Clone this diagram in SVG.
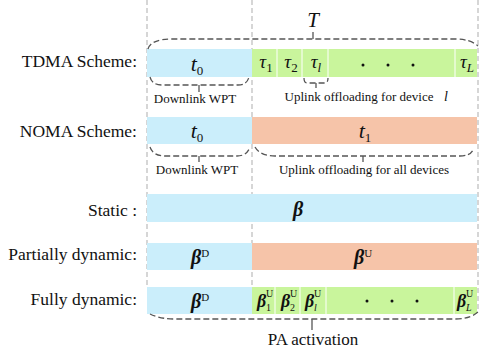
<svg xmlns="http://www.w3.org/2000/svg" width="482" height="351" viewBox="0 0 482 351">
<style>
.lbl{font-family:"Liberation Serif","Times New Roman",serif;font-size:17.5px;fill:#111;text-anchor:end}
.sm{font-family:"Liberation Serif","Times New Roman",serif;font-size:13px;fill:#111;text-anchor:middle}
.m{font-family:"Liberation Serif","Times New Roman",serif;font-style:italic;font-size:21px;fill:#111;text-anchor:middle}
.b{font-family:"Liberation Serif","Times New Roman",serif;font-style:italic;font-weight:bold;font-size:20px;fill:#111;text-anchor:middle}
.sub{font-style:normal;font-weight:normal;font-size:13px}
.sup{font-style:normal;font-weight:normal;font-size:11px}
.bs{font-family:"Liberation Serif","Times New Roman",serif;font-style:italic;font-weight:bold;font-size:18px;fill:#111}
.tiny{font-family:"Liberation Serif","Times New Roman",serif;font-size:10px;fill:#111}
.blue{fill:#cbeefb}
.green{fill:#c9f59c}
.sal{fill:#f6c4a9}
.div{stroke:#fff;stroke-width:1}
.grid{stroke:#bbb;stroke-width:1.2;stroke-dasharray:5,3;fill:none}
.br{stroke:#555;stroke-width:1.3;stroke-dasharray:6,3;fill:none}
.tick{stroke:#555;stroke-width:1.3;fill:none}
.dot{fill:#111}
</style>
<g id="grid">
<line class="grid" x1="147" y1="0" x2="147" y2="287"/>
<line class="grid" x1="252" y1="0" x2="252" y2="287"/>
<line class="grid" x1="478" y1="0" x2="478" y2="312"/>
</g>
<g id="tdma">
<text class="lbl" x="137" y="67">TDMA Scheme:</text>
<rect class="blue" x="147" y="49" width="105" height="28"/>
<rect class="green" x="252" y="49" width="225" height="28"/>
<line class="div" x1="277" y1="49" x2="277" y2="77"/>
<line class="div" x1="302" y1="49" x2="302" y2="77"/>
<line class="div" x1="328" y1="49" x2="328" y2="77"/>
<line class="div" x1="455" y1="49" x2="455" y2="77"/>
<text class="m" x="197" y="71" style="font-size:22px">t<tspan class="sub" dy="4">0</tspan></text>
<text class="m" x="266" y="68" style="font-size:19px">τ<tspan class="sub" dy="4">1</tspan></text>
<text class="m" x="291" y="68" style="font-size:19px">τ<tspan class="sub" dy="4">2</tspan></text>
<text class="m" x="316" y="68" style="font-size:19px">τ<tspan class="sub" style="font-style:italic" dy="4">l</tspan></text>
<text class="m" x="467" y="68" style="font-size:19px">τ<tspan class="sub" style="font-style:italic" dy="4">L</tspan></text>
<circle class="dot" cx="363" cy="65" r="1.5"/>
<circle class="dot" cx="388" cy="65" r="1.5"/>
<circle class="dot" cx="413" cy="65" r="1.5"/>
<text class="m" x="313" y="27">T</text>
<text class="sm" x="195" y="103">Downlink WPT</text>
<text class="sm" x="359" y="101">Uplink offloading for device</text>
<text class="sm" x="446" y="101" style="font-style:italic;font-size:14px">l</text>
</g>
<g id="noma">
<text class="lbl" x="137" y="137">NOMA Scheme:</text>
<rect class="blue" x="147" y="117" width="105" height="27"/>
<rect class="sal" x="252" y="117" width="225" height="27"/>
<text class="m" x="197" y="138" style="font-size:22px">t<tspan class="sub" dy="4">0</tspan></text>
<text class="m" x="365" y="138" style="font-size:22px">t<tspan class="sub" dy="4">1</tspan></text>
<text class="sm" x="197" y="174">Downlink WPT</text>
<text class="sm" x="364" y="174">Uplink offloading for all devices</text>
</g>
<g id="static">
<text class="lbl" x="137" y="216">Static :</text>
<rect class="blue" x="147" y="194" width="330" height="28"/>
<text class="b" x="298" y="216">β</text>
</g>
<g id="partial">
<text class="lbl" x="137" y="260">Partially dynamic:</text>
<rect class="blue" x="147" y="243" width="105" height="27"/>
<rect class="sal" x="252" y="243" width="225" height="27"/>
<text class="b" x="200" y="264">β<tspan class="sup" dy="-7">D</tspan></text>
<text class="b" x="363" y="264">β<tspan class="sup" dy="-7">U</tspan></text>
</g>
<g id="fully">
<text class="lbl" x="137" y="305">Fully dynamic:</text>
<rect class="blue" x="147" y="287" width="105" height="27"/>
<rect class="green" x="252" y="287" width="225" height="27"/>
<line class="div" x1="275" y1="287" x2="275" y2="314"/>
<line class="div" x1="300" y1="287" x2="300" y2="314"/>
<line class="div" x1="326" y1="287" x2="326" y2="314"/>
<line class="div" x1="454" y1="287" x2="454" y2="314"/>
<text class="b" x="200" y="308">β<tspan class="sup" dy="-7">D</tspan></text>
<text class="bs" x="257" y="307">β</text>
<text class="tiny" x="266" y="297">U</text>
<text class="tiny" x="266" y="311">1</text>
<text class="bs" x="281" y="307">β</text>
<text class="tiny" x="290" y="297">U</text>
<text class="tiny" x="290" y="311">2</text>
<text class="bs" x="305" y="307">β</text>
<text class="tiny" x="314" y="297">U</text>
<text class="tiny" x="314" y="311" style="font-style:italic">l</text>
<text class="bs" x="457" y="307">β</text>
<text class="tiny" x="466" y="297">U</text>
<text class="tiny" x="466" y="311" style="font-style:italic">L</text>
<circle class="dot" cx="367" cy="301" r="1.5"/>
<circle class="dot" cx="392" cy="301" r="1.5"/>
<circle class="dot" cx="417" cy="301" r="1.5"/>
<text class="sm" x="313" y="345" style="font-size:17px">PA activation</text>
</g>
<g id="connectors">
<path class="br" d="M148,49 Q151,39 172,39 H455 Q470,39 478,46"/>
<path class="tick" d="M313,32 V39"/>
<path class="br" d="M150,77 Q152,85 162,85 H238 Q247,85 249,77"/>
<path class="tick" d="M199,85 V92"/>
<path class="br" d="M304,78 Q304,83 307,83 H325 Q328,83 328,78"/>
<path class="tick" d="M316,83 V88"/>
<path class="br" d="M150,147 Q153,156 165,156 H237 Q247,156 250,147"/>
<path class="tick" d="M199,156 V162"/>
<path class="br" d="M255,147 Q260,156 275,156 H460 Q470,156 473,150"/>
<path class="tick" d="M363,156 V162"/>
<path class="br" d="M150,314 Q160,319 175,319 H455 Q470,319 478,312"/>
<path class="tick" d="M312,319 V330"/>
</g>
</svg>
